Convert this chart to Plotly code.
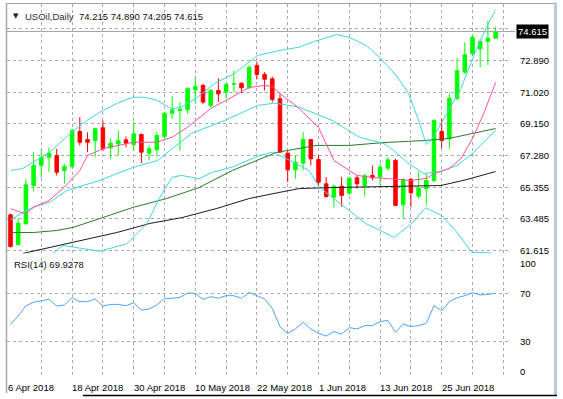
import plotly.graph_objects as go

W, H = 563, 399

# ---------------- data ----------------
bar_idx = list(range(64))
opens = [63.73, 61.97, 63.20, 65.47, 66.66, 67.15, 67.25, 66.36, 66.60, 68.68,
         68.20, 68.14, 68.90, 67.71, 67.94, 68.18, 67.90, 68.50, 67.39, 67.59,
         68.38, 69.76, 69.92, 69.96, 71.15, 71.41, 70.22, 71.11, 71.01, 71.48,
         71.54, 71.27, 72.59, 72.06, 71.80, 70.62, 67.39, 66.40, 66.80, 68.20,
         67.01, 65.57, 64.78, 65.43, 65.02, 65.93, 65.47, 66.07, 65.97, 66.50,
         66.96, 64.33, 65.83, 64.84, 65.28, 65.77, 68.68, 68.24, 70.65, 72.20,
         73.29, 73.58, 74.02, 74.215]
highs = [63.80, 63.53, 65.87, 67.45, 67.55, 67.73, 67.65, 66.76, 68.80, 69.53,
         68.63, 68.90, 69.33, 68.26, 68.74, 68.38, 69.23, 68.56, 67.85, 68.64,
         69.82, 70.81, 70.42, 71.31, 71.86, 71.50, 71.20, 71.84, 71.57, 72.30,
         71.60, 72.60, 72.83, 72.20, 71.94, 70.91, 67.55, 67.25, 68.64, 68.20,
         67.25, 65.97, 65.53, 65.97, 66.00, 66.07, 66.17, 66.66, 66.76, 67.15,
         67.06, 65.91, 65.91, 66.32, 66.17, 69.43, 69.43, 70.91, 73.03, 73.98,
         74.42, 74.18, 75.26, 74.890]
lows = [61.78, 61.90, 63.15, 65.12, 65.95, 66.26, 66.07, 65.57, 66.50, 67.85,
        67.45, 67.15, 67.55, 67.07, 67.25, 67.74, 67.55, 66.80, 66.96, 67.19,
        68.20, 69.43, 67.55, 69.73, 70.32, 70.32, 70.10, 70.42, 70.62, 71.01,
        70.95, 71.20, 71.76, 71.11, 70.42, 67.45, 65.67, 65.87, 66.36, 66.66,
        65.47, 64.74, 64.18, 64.22, 64.92, 65.28, 64.82, 65.77, 65.47, 66.36,
        64.29, 63.53, 64.18, 64.72, 64.29, 65.67, 67.69, 67.65, 70.52, 72.10,
        73.15, 72.49, 72.63, 74.205]
closes = [61.85, 63.23, 65.51, 66.66, 67.12, 67.39, 66.26, 66.60, 68.74, 68.04,
          68.04, 68.84, 67.65, 67.98, 68.12, 67.98, 68.54, 67.45, 67.65, 68.44,
          69.76, 69.96, 70.00, 71.21, 71.35, 70.42, 71.11, 70.91, 71.47, 71.52,
          71.27, 72.49, 72.06, 71.78, 70.58, 67.45, 66.40, 66.85, 68.20, 67.06,
          65.67, 64.82, 65.43, 64.88, 65.91, 65.57, 66.05, 65.93, 66.56, 67.00,
          64.29, 65.83, 65.04, 65.31, 65.77, 69.33, 68.14, 70.65, 72.28, 73.23,
          74.27, 74.02, 74.21, 74.615]

# fast moving average (pink)
ma_fast_idx = [0, 2, 3, 5, 7, 9, 10, 12, 14, 16, 19, 21, 23, 26, 28, 30, 31, 33, 34, 35,
               37.5, 40, 41, 42, 44, 45, 47, 49, 52, 54, 55, 57, 58.5, 60, 61.5, 63]
ma_fast_val = [64.09, 63.79, 64.18, 64.58, 65.37, 66.36, 67.25, 67.65, 67.85, 68.04,
               68.04, 68.34, 68.93, 70.04, 70.52, 71.01, 71.29, 71.41, 71.35, 70.93,
               70.04, 68.91, 67.96, 66.96, 66.36, 66.07, 65.95, 65.89, 65.77, 65.89,
               66.18, 66.48, 67.07, 68.26, 69.80, 71.58]

# Bollinger bands (cyan)
bb_up_idx = [0, 1.6, 2.9, 5.1, 7.7, 9.9, 11.6, 13.8, 15.9, 17.4, 19.1, 20.9, 22.2, 24.3,
             26.5, 29.1, 32.1, 34.9, 37.5, 39.2, 42.3, 44, 46.2, 47.9, 50.1, 51.7, 53,
             54, 55, 56.7, 58.5, 60.2, 61.9, 63]
bb_up_val = [66.36, 66.48, 66.85, 67.45, 68.54, 69.33, 69.82, 70.34, 70.71, 70.71,
             70.52, 70.02, 70.12, 70.71, 71.53, 72.12, 73.19, 73.48, 73.68, 73.98,
             74.43, 74.27, 73.78, 73.09, 72.00, 70.93, 69.33, 67.90, 68.40, 69.80,
             71.23, 73.19, 74.97, 75.86]
bb_mid_idx = [0, 2.9, 5.1, 7.3, 9.4, 11.6, 13.8, 15.9, 19.1, 21.3, 23.5, 27.8, 32.1, 34.3,
              37.5, 41.8, 45.3, 48.5, 49.8, 51.5, 53.7, 55.9, 58, 60.2, 63]
bb_mid_val = [63.45, 64.18, 64.48, 65.17, 65.47, 65.77, 66.18, 66.54, 66.96, 67.74,
              68.56, 69.33, 70.22, 70.36, 70.12, 69.33, 68.34, 67.96, 67.55, 66.84,
              66.18, 66.30, 66.66, 67.45, 68.74]
bb_low_idx = [4.5, 5.5, 6.8, 9.4, 11.6, 15.1, 17.7, 19.4, 21.0, 22.2, 24.5, 26.2, 28.8,
              32.3, 34.0, 35.8, 37.5, 38.8, 40.1, 42.3, 44.0, 46.2, 49.8, 52.1, 53.9,
              56.0, 57.8, 59.9, 62.5]
bb_low_val = [61.20, 61.44, 61.91, 61.73, 61.57, 62.01, 63.20, 64.78, 65.96, 66.07,
              65.87, 66.26, 66.56, 67.25, 67.45, 67.07, 66.66, 66.36, 65.37, 64.58,
              63.99, 63.20, 62.40, 63.20, 64.15, 63.69, 62.80, 61.51, 61.47]

# slow moving averages
ma_mid_idx = [0, 2.9, 6, 8.1, 11.6, 15.9, 20.3, 24.5, 28.8, 31.4, 34.5, 39.7, 44, 48.5,
              53.7, 56.9, 59.8, 63]
ma_mid_val = [62.68, 62.68, 62.80, 62.98, 63.51, 64.17, 64.70, 65.35, 66.36, 66.84,
              67.43, 67.85, 67.85, 68.02, 68.14, 68.26, 68.56, 68.85]
ma_slow_idx = [1.6, 5.1, 9.4, 13.8, 18.1, 22.3, 26.8, 31, 34.9, 37.5, 41.8, 48.5, 55.9,
               59.3, 63]
ma_slow_val = [61.44, 61.79, 62.21, 62.68, 63.22, 63.57, 64.11, 64.70, 65.06, 65.29,
               65.35, 65.41, 65.47, 65.83, 66.30]

# RSI(14)
rsi = [43.98, 50.96, 59.6, 62.4, 63.8, 64.9, 59.3, 60.2, 66.3, 63.0,
       63.0, 65.2, 59.3, 60.7, 60.7, 59.6, 62.1, 56.0, 56.8, 60.2,
       65.8, 65.8, 66.6, 70.2, 70.0, 64.9, 67.2, 65.8, 68.0, 68.0,
       65.8, 70.8, 68.0, 65.2, 57.4, 42.0, 36.4, 40.1, 45.7, 40.1,
       36.4, 34.2, 37.8, 35.9, 41.2, 40.1, 42.9, 42.9, 46.2, 47.3,
       37.3, 44.3, 42.0, 42.9, 44.8, 59.6, 55.4, 63.0, 66.3, 68.0,
       70.5, 68.6, 69.1, 69.9]

date_idx = [0, 8, 16, 24, 32, 40, 48, 56]
date_labels = ["6 Apr 2018", "18 Apr 2018", "30 Apr 2018", "10 May 2018",
               "22 May 2018", "1 Jun 2018", "13 Jun 2018", "25 Jun 2018"]

price_ticks = [61.615, 63.485, 65.355, 67.280, 69.150, 71.020, 72.890, 74.760]
price_labels = ["61.615", "63.485", "65.355", "67.280", "69.150", "71.020", "72.890", ""]
last_price = 74.615
last_price_text = "74.615"
symbol_text = "USOil,Daily"
ohlc_text = "74.215 74.890 74.205 74.615"
rsi_title = "RSI(14) 69.9278"
rsi_grid = [30, 70]
rsi_labels = ["30", "70"]
vgrid_idx = list(range(4, 65, 4))

# ---------------- layout helpers ----------------
def px(x):
    return x / W

def py(y):
    return 1 - y / H

FONT = "Liberation Sans, Arial, sans-serif"
GRID = "#a8a8a8"
DASH = "3px,3px"

fig = go.Figure()

fig.add_trace(go.Candlestick(
    x=bar_idx, open=opens, high=highs, low=lows, close=closes,
    increasing=dict(line=dict(color="#00ff00", width=1), fillcolor="#00ff00"),
    decreasing=dict(line=dict(color="#ff0000", width=1), fillcolor="#ff0000"),
    whiskerwidth=0, xaxis="x", yaxis="y", hoverinfo="skip", showlegend=False))

def line(xs, ys, color, xa="x", ya="y", w=1.0):
    fig.add_trace(go.Scatter(x=xs, y=ys, mode="lines", line=dict(color=color, width=w),
                             xaxis=xa, yaxis=ya, hoverinfo="skip", showlegend=False))

line(ma_slow_idx, ma_slow_val, "#1a1a1a")
line(ma_mid_idx, ma_mid_val, "#2a7a2a")
line(bb_up_idx, bb_up_val, "#3fd3e0")
line(bb_mid_idx, bb_mid_val, "#3fd3e0")
line(bb_low_idx, bb_low_val, "#3fd3e0")
line(ma_fast_idx, ma_fast_val, "#ff4fa3")
line(bar_idx, rsi, "#4aa3ff", xa="x2", ya="y2")

x_left, x_right = -0.52, 64.87
main_top, main_bot = 3.5, 253.5
y_top = 72.89 + (60.5 - main_top) / 16.85
y_bot = 72.89 - (main_bot - 60.5) / 16.85
rsi_top, rsi_bot = 257.5, 376.8

xcommon = dict(range=[x_left, x_right], domain=[px(6.5), px(510)], tickvals=vgrid_idx,
               showgrid=True, gridcolor=GRID, griddash=DASH, gridwidth=1,
               showticklabels=False, ticks="", zeroline=False, showline=False,
               rangeslider=dict(visible=False), fixedrange=True)

fig.update_layout(
    width=W, height=H, margin=dict(l=0, r=0, t=0, b=0),
    paper_bgcolor="white", plot_bgcolor="white", showlegend=False,
    boxgap=0.35,
    xaxis=dict(**xcommon, anchor="y"),
    xaxis2=dict(**xcommon, anchor="y2", matches="x"),
    yaxis=dict(range=[y_bot, y_top], domain=[py(main_bot), py(main_top)], anchor="x",
               tickvals=price_ticks, showgrid=True, gridcolor=GRID, griddash=DASH,
               showticklabels=False, ticks="", zeroline=False, showline=False,
               fixedrange=True),
    yaxis2=dict(range=[0, 100], domain=[py(rsi_bot), py(rsi_top)], anchor="x2",
                tickvals=rsi_grid, showgrid=True, gridcolor=GRID, griddash=DASH,
                showticklabels=False, ticks="", zeroline=False, showline=False,
                fixedrange=True),
    font=dict(family=FONT, size=10, color="#000000"),
)

ann = []
# header
ann.append(dict(x=px(12), y=py(16), xref="paper", yref="paper", text="▼",
                showarrow=False, xanchor="left", yanchor="middle",
                font=dict(family="DejaVu Sans", size=7, color="#202020"), borderpad=0))
ann.append(dict(x=px(24), y=py(16), xref="paper", yref="paper", text=symbol_text,
                showarrow=False, xanchor="left", yanchor="middle",
                font=dict(size=9.5, color="#303030"), borderpad=0))
ann.append(dict(x=px(78), y=py(16), xref="paper", yref="paper", text=ohlc_text,
                showarrow=False, xanchor="left", yanchor="middle",
                font=dict(size=9.5, color="#101010"), borderpad=0))
ann.append(dict(x=px(13), y=py(264.5), xref="paper", yref="paper", text=rsi_title,
                showarrow=False, xanchor="left", yanchor="middle",
                font=dict(size=9.5, color="#101010"), borderpad=0))
# price labels
for v, t in zip(price_ticks, price_labels):
    if t:
        ann.append(dict(x=px(519), y=v, xref="paper", yref="y", text=t, showarrow=False,
                        xanchor="left", yanchor="middle", font=dict(size=9.5), borderpad=0))
ann.append(dict(x=px(516), y=last_price, xref="paper", yref="y", text=last_price_text,
                showarrow=False, xanchor="left", yanchor="middle", bgcolor="#000000",
                font=dict(size=9.5, color="#ffffff"), borderpad=1))
# RSI labels
for v, t in zip(rsi_grid, rsi_labels):
    ann.append(dict(x=px(519), y=v, xref="paper", yref="y2", text=t, showarrow=False,
                    xanchor="left", yanchor="middle", font=dict(size=9.5), borderpad=0))
ann.append(dict(x=px(519), y=py(263), xref="paper", yref="paper", text="100",
                showarrow=False, xanchor="left", yanchor="middle", font=dict(size=9.5),
                borderpad=0))
ann.append(dict(x=px(519), y=py(371.5), xref="paper", yref="paper", text="0",
                showarrow=False, xanchor="left", yanchor="middle", font=dict(size=9.5),
                borderpad=0))
# date labels
for i, (d, t) in enumerate(zip(date_idx, date_labels)):
    ann.append(dict(x=d, y=py(387), xref="x", yref="paper", text=t, showarrow=False,
                    xanchor="left", yanchor="middle", xshift=(-4 if i == 0 else -1),
                    font=dict(size=9.5), borderpad=0))
fig.update_layout(annotations=ann)

shapes = [
    # bid line
    dict(type="line", xref="paper", yref="y", x0=px(6.5), x1=px(515), y0=last_price,
         y1=last_price, line=dict(color="#a0a0a0", width=1)),
    # window frame
    dict(type="line", xref="paper", yref="paper", x0=px(6), x1=px(554), y0=py(3.5),
         y1=py(3.5), line=dict(color="#a0a0a0", width=1)),
    dict(type="line", xref="paper", yref="paper", x0=px(6.5), x1=px(6.5), y0=py(3.5),
         y1=py(393), line=dict(color="#a8a8a8", width=1.5)),
    dict(type="line", xref="paper", yref="paper", x0=px(555.5), x1=px(555.5), y0=py(2.5),
         y1=py(396), line=dict(color="#b8c8de", width=3)),
    dict(type="line", xref="paper", yref="paper", x0=px(83), x1=px(557), y0=py(395.5),
         y1=py(395.5), line=dict(color="#000000", width=1.5)),
]
fig.update_layout(shapes=shapes)

fig.write_html("out.html", config={"displayModeBar": False},
               post_script="document.body.style.margin='0px';document.body.style.padding='0px';")
